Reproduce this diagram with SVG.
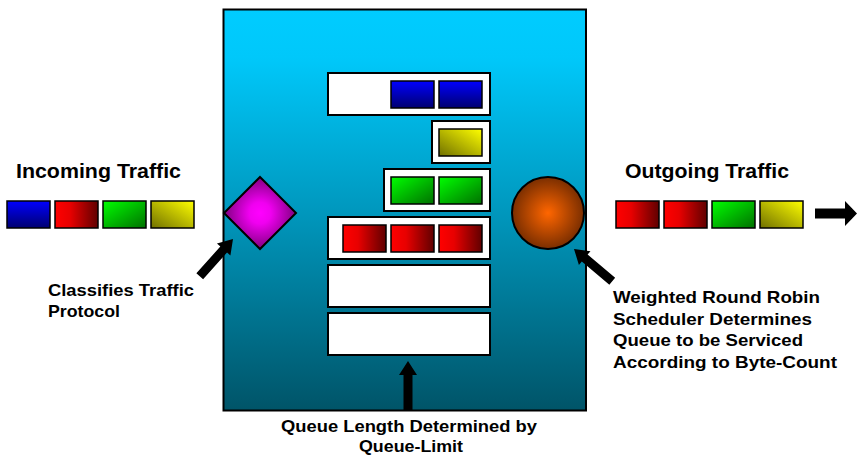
<svg xmlns="http://www.w3.org/2000/svg" xmlns:xlink="http://www.w3.org/1999/xlink" width="859" height="455" viewBox="0 0 859 455">
  <style>
    .title { font-family: "Liberation Sans", Arial, sans-serif; font-weight: bold; font-size: 21px; fill: #000; }
    .lbl { font-family: "Liberation Sans", Arial, sans-serif; font-weight: bold; font-size: 16.5px; fill: #000; }
    .queue { fill: #fff; stroke: #000; stroke-width: 2; }
    .cell { stroke: #000; stroke-width: 1.5; }
    .blue { fill: url(#gBlue); }
    .red { fill: url(#gRed); }
    .green { fill: url(#gGreen); }
    .yellow { fill: url(#gYellow); }
    .arrow { fill: #000; }
  </style>
  <defs>
    <linearGradient id="gBox" x1="0" y1="0" x2="0" y2="1">
      <stop offset="0" stop-color="#00CCFF"/>
      <stop offset="0.12" stop-color="#00C8FA"/>
      <stop offset="0.5" stop-color="#0098BE"/>
      <stop offset="1" stop-color="#005468"/>
    </linearGradient>
    <linearGradient id="gBlue" x1="0" y1="0" x2="0" y2="1">
      <stop offset="0" stop-color="#0000FF"/>
      <stop offset="1" stop-color="#000070"/>
    </linearGradient>
    <linearGradient id="gRed" x1="0" y1="0" x2="1" y2="0">
      <stop offset="0" stop-color="#FF0000"/>
      <stop offset="0.35" stop-color="#E80000"/>
      <stop offset="1" stop-color="#600000"/>
    </linearGradient>
    <linearGradient id="gGreen" x1="0" y1="0" x2="1" y2="1">
      <stop offset="0" stop-color="#00FF00"/>
      <stop offset="1" stop-color="#007000"/>
    </linearGradient>
    <linearGradient id="gYellow" x1="0" y1="1" x2="1" y2="0">
      <stop offset="0" stop-color="#707000"/>
      <stop offset="1" stop-color="#FFFF00"/>
    </linearGradient>
    <radialGradient id="gMagenta" cx="0.5" cy="0.5" r="0.5">
      <stop offset="0" stop-color="#FF00FF"/>
      <stop offset="0.3" stop-color="#F000F0"/>
      <stop offset="1" stop-color="#800080"/>
    </radialGradient>
    <radialGradient id="gOrange" cx="0.5" cy="0.5" r="0.5">
      <stop offset="0" stop-color="#FF6600"/>
      <stop offset="1" stop-color="#7A2E00"/>
    </radialGradient>
    <path id="blockArrow" d="M0,0 L-14,-9 L-14,-4.5 L-50,-4.5 L-50,4.5 L-14,4.5 L-14,9 Z"/>
  </defs>

  <g id="router">
    <rect x="223.5" y="9.5" width="362.5" height="401" fill="url(#gBox)" stroke="#000" stroke-width="2"/>
  </g>

  <g id="queue1">
    <rect class="queue" x="328" y="73" width="162" height="42"/>
    <rect class="cell blue" x="391" y="81" width="43" height="27"/>
    <rect class="cell blue" x="439" y="81" width="43" height="27"/>
  </g>
  <g id="queue2">
    <rect class="queue" x="432" y="121" width="58" height="42"/>
    <rect class="cell yellow" x="439" y="129" width="43" height="27"/>
  </g>
  <g id="queue3">
    <rect class="queue" x="384" y="169" width="106" height="42"/>
    <rect class="cell green" x="391" y="177" width="43" height="27"/>
    <rect class="cell green" x="439" y="177" width="43" height="27"/>
  </g>
  <g id="queue4">
    <rect class="queue" x="328" y="217" width="162" height="42"/>
    <rect class="cell red" x="343" y="225" width="43" height="27"/>
    <rect class="cell red" x="391" y="225" width="43" height="27"/>
    <rect class="cell red" x="439" y="225" width="43" height="27"/>
  </g>
  <g id="queue5">
    <rect class="queue" x="328" y="265" width="162" height="42"/>
  </g>
  <g id="queue6">
    <rect class="queue" x="328" y="313" width="162" height="42"/>
  </g>

  <g id="classifier">
    <polygon points="260,177 296,213 260,249 224,213" fill="url(#gMagenta)" stroke="#000" stroke-width="2"/>
  </g>
  <g id="scheduler">
    <circle cx="548" cy="213" r="36" fill="url(#gOrange)" stroke="#000" stroke-width="2"/>
  </g>

  <g id="incoming">
    <text class="title" x="16" y="178" textLength="165" lengthAdjust="spacingAndGlyphs">Incoming Traffic</text>
    <rect class="cell blue" x="7" y="201" width="43" height="27"/>
    <rect class="cell red" x="55" y="201" width="43" height="27"/>
    <rect class="cell green" x="103" y="201" width="43" height="27"/>
    <rect class="cell yellow" x="151" y="201" width="43" height="27"/>
  </g>

  <g id="outgoing">
    <text class="title" x="625" y="178" textLength="164" lengthAdjust="spacingAndGlyphs">Outgoing Traffic</text>
    <rect class="cell red" x="616" y="201" width="43" height="27"/>
    <rect class="cell red" x="664" y="201" width="43" height="27"/>
    <rect class="cell green" x="712" y="201" width="43" height="27"/>
    <rect class="cell yellow" x="760" y="201" width="43" height="27"/>
  </g>

  <g id="label-classifier">
    <text class="lbl" x="48" y="296" textLength="146" lengthAdjust="spacingAndGlyphs">Classifies Traffic</text>
    <text class="lbl" x="48" y="317" textLength="72" lengthAdjust="spacingAndGlyphs">Protocol</text>
  </g>
  <g id="label-scheduler">
    <text class="lbl" x="613" y="303" textLength="207" lengthAdjust="spacingAndGlyphs">Weighted Round Robin</text>
    <text class="lbl" x="613" y="324.5" textLength="199" lengthAdjust="spacingAndGlyphs">Scheduler Determines</text>
    <text class="lbl" x="613" y="346" textLength="190" lengthAdjust="spacingAndGlyphs">Queue to be Serviced</text>
    <text class="lbl" x="613" y="367.5" textLength="224" lengthAdjust="spacingAndGlyphs">According to Byte-Count</text>
  </g>
  <g id="label-queue">
    <text class="lbl" x="281" y="432" textLength="256" lengthAdjust="spacingAndGlyphs">Queue Length Determined by</text>
    <text class="lbl" x="359" y="452" textLength="104" lengthAdjust="spacingAndGlyphs">Queue-Limit</text>
  </g>

  <g id="connectors">
    <use xlink:href="#blockArrow" class="arrow" transform="translate(233,239) rotate(-48.3)"/>
    <use xlink:href="#blockArrow" class="arrow" transform="translate(574,249) rotate(-139.9)"/>
    <use xlink:href="#blockArrow" class="arrow" transform="translate(408,361) rotate(-90)"/>
    <path class="arrow" d="M857,213.5 L845,201 L845,208.5 L815,208.5 L815,218.5 L845,218.5 L845,226 Z"/>
  </g>
</svg>
